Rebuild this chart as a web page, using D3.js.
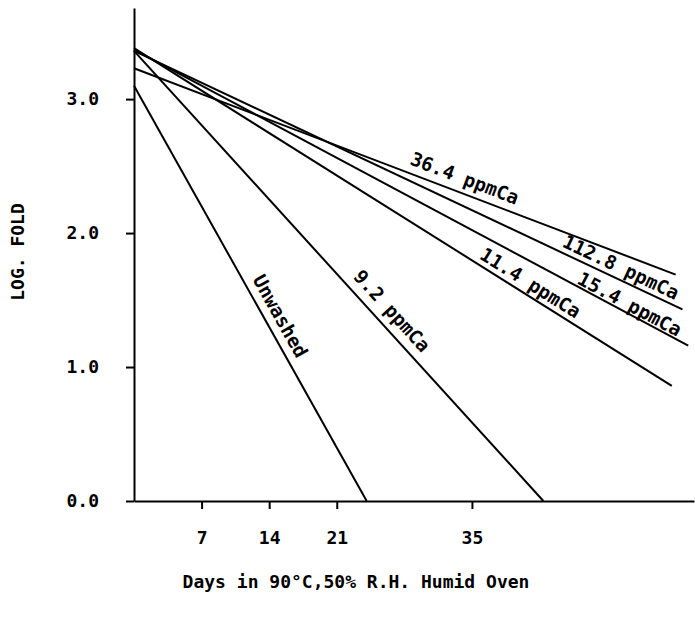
<!DOCTYPE html>
<html>
<head>
<meta charset="utf-8">
<script src="https://cdn.jsdelivr.net/npm/d3@7"></script>
<style>
  body { margin: 0; background: #fff; }
  text { font-family: "DejaVu Sans Mono", monospace; font-weight: bold; fill: #000; }
</style>
</head>
<body>
<svg id="foldChart"></svg>
<script>
// series: each line is a straight fit from day 0 to its end
var seriesNames = ["Unwashed", "9.2 ppmCa", "11.4 ppmCa", "15.4 ppmCa", "112.8 ppmCa", "36.4 ppmCa"];
var startDay = [0, 0, 0, 0, 0, 0];
var startLog = [3.10, 3.36, 3.38, 3.37, 3.36, 3.23];
var endDay = [24.1, 42.4, 55.7, 57.4, 56.8, 56.1];
var endLog = [0.0, 0.0, 0.86, 1.16, 1.43, 1.69];

var xTicks = [7, 14, 21, 35];
var yTicks = [0, 1, 2, 3];

// where each label sits along its line (day) and how far above it (px)
var labelDay = [13.8, 25.5, 40.4, 50.9, 49.9, 33.7];
var labelGap = [15, 16, 12, 9, 12, 15];

var width = 695;
var height = 618;

var svg = d3
  .select("#foldChart")
  .attr("width", width)
  .attr("height", height);

var x = d3.scaleLinear().domain([0, 58]).range([134, 694]);
var y = d3.scaleLinear().domain([0, 3.68]).range([501, 8]);

// axes
var xAxis = svg
  .append("g")
  .attr("transform", "translate(0," + y(0) + ")")
  .call(d3.axisBottom(x).tickValues(xTicks).tickSize(8).tickSizeOuter(0));

xAxis.selectAll("text")
  .attr("y", 43)
  .attr("dy", null)
  .style("font-size", "18px");

var yAxis = svg
  .append("g")
  .attr("transform", "translate(" + x(0) + ",0)")
  .call(d3.axisLeft(y).tickValues(yTicks).tickSize(8).tickSizeOuter(0).tickFormat(d3.format(".1f")));

yAxis.selectAll("text")
  .attr("x", -35)
  .style("font-size", "18px");

svg.selectAll(".domain, .tick line")
  .attr("stroke", "#000")
  .attr("stroke-width", 2);

// the lines
var data = seriesNames.map(function (name, i) {
  return {
    name: name,
    pts: [[startDay[i], startLog[i]], [endDay[i], endLog[i]]],
    at: labelDay[i],
    gap: labelGap[i]
  };
});

var line = d3.line()
  .x(function (d) { return x(d[0]); })
  .y(function (d) { return y(d[1]); });

svg.selectAll(".fold")
  .data(data)
  .enter()
  .append("path")
  .attr("class", "fold")
  .attr("d", function (d) { return line(d.pts); })
  .attr("fill", "none")
  .attr("stroke", "#000")
  .attr("stroke-width", 2);

// labels written along each line
svg.selectAll(".lbl")
  .data(data)
  .enter()
  .append("text")
  .attr("class", "lbl")
  .attr("transform", function (d) {
    var a = d.pts[0], b = d.pts[1];
    var t = (d.at - a[0]) / (b[0] - a[0]);
    var v = a[1] + t * (b[1] - a[1]);
    var ang = Math.atan2(y(b[1]) - y(a[1]), x(b[0]) - x(a[0])) * 180 / Math.PI;
    return "translate(" + x(d.at) + "," + y(v) + ") rotate(" + ang + ")";
  })
  .attr("y", function (d) { return -d.gap; })
  .attr("dy", "0.35em")
  .attr("text-anchor", "middle")
  .style("font-size", "19px")
  .text(function (d) { return d.name; });

// axis titles
svg.append("text")
  .attr("x", 356)
  .attr("y", 588)
  .attr("text-anchor", "middle")
  .style("font-size", "18px")
  .text("Days in 90\u00B0C,50% R.H. Humid Oven");

svg.append("text")
  .attr("transform", "translate(24,252) rotate(-90)")
  .attr("text-anchor", "middle")
  .style("font-size", "18px")
  .text("LOG. FOLD");
</script>
</body>
</html>
